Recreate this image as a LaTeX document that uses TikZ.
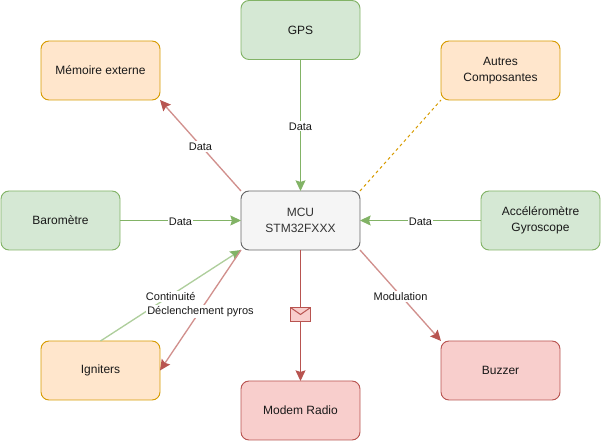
\documentclass[tikz,border=0pt]{standalone}
\usepackage{fontspec}
\setmainfont{Liberation Sans}
\usetikzlibrary{arrows.meta}
\definecolor{greenFill}{HTML}{D5E8D4}
\definecolor{greenLine}{HTML}{82B366}
\definecolor{orangeFill}{HTML}{FFE6CC}
\definecolor{orangeLine}{HTML}{D79B00}
\definecolor{redFill}{HTML}{F8CECC}
\definecolor{redLine}{HTML}{B85450}
\definecolor{greyFill}{HTML}{F5F5F5}
\definecolor{greyLine}{HTML}{666666}
\definecolor{greyText}{HTML}{333333}
\tikzstyle{box} = [draw, rectangle, rounded corners=6pt, minimum width=89.25pt, minimum height=44.25pt, outer sep=0pt, line width=0.7pt, align=center, font=\fontsize{9}{12}\selectfont, text=black!90]
\tikzstyle{sensor} = [box, draw=greenLine, fill=greenFill]
\tikzstyle{extra} = [box, draw=orangeLine, fill=orangeFill]
\tikzstyle{output} = [box, draw=redLine, fill=redFill]
\tikzstyle{mcu} = [box, draw=greyLine, fill=greyFill, text=greyText]
\tikzstyle{legend} = [fill=white, font=\fontsize{8.25}{10}\selectfont, inner sep=1pt, text=black!90, yshift=-0.8pt]
\tikzstyle{greenlink} = [line width=0.75pt, greenLine, -{Stealth[inset=1.2pt,length=8pt,width=7.5pt]}]
\tikzstyle{redlink} = [line width=0.75pt, redLine, -{Stealth[inset=1.2pt,length=8pt,width=7.5pt]}]
\tikzstyle{greendiag} = [line width=1pt, greenLine!65, -{Stealth[inset=1.2pt,length=8pt,width=7.5pt,color=greenLine]}]
\tikzstyle{reddiag} = [line width=1pt, redLine!65, -{Stealth[inset=1.2pt,length=8pt,width=7.5pt,color=redLine]}]

\begin{document}
\begin{tikzpicture}[x=0.75pt,y=-0.75pt]
      \useasboundingbox (0,0) rectangle (601,441);

      \node[mcu] (mcu) at (300.5,220.5) {MCU\\STM32FXXX};
      \node[sensor] (gps) at (300.5,30) {GPS};
      \node[extra] (mem) at (100.5,70.5) {Mémoire externe};
      \node[extra] (autres) at (500.5,70.5) {Autres\\Composantes};
      \node[sensor] (baro) at (60.5,220.5) {Baromètre};
      \node[sensor] (accel) at (540.5,220.5) {Accéléromètre\\Gyroscope};
      \node[extra] (ign) at (100.5,370.5) {Igniters};
      \node[output] (buzzer) at (500.5,370.5) {Buzzer};
      \node[output] (modem) at (300.5,410.5) {Modem Radio};

      \draw[greenlink] (gps) -- node[legend] {Data} (mcu);
      \draw[reddiag] (mcu.north west) -- node[legend] {Data} (mem.south east);
      \draw[orangeLine, line width=0.75pt, dash pattern=on 2.25pt off 2.25pt] (mcu.north east) -- (autres.south west);
      \draw[greenlink] (baro) -- node[legend] {Data} (mcu);
      \draw[greenlink] (accel) -- node[legend] {Data} (mcu);
      \draw[greendiag] (ign.north) -- node[legend] {Continuité} (mcu.south west);
      \draw[reddiag] (mcu.south west) -- node[legend] {Déclenchement pyros} (ign.east);
      \draw[reddiag] (mcu.south east) -- node[legend] {Modulation} (buzzer.north west);
      \draw[redlink] (mcu) -- (modem);

      % envelope
      \node[draw=redLine, fill=redFill, line width=0.75pt, minimum width=15pt, minimum height=10.5pt, inner sep=0pt, outer sep=0pt] (mail) at (300.5,314.5) {};
      \draw[redLine, line width=0.75pt] (mail.north west) -- (mail.center) -- (mail.north east);
    \end{tikzpicture}
\end{document}
